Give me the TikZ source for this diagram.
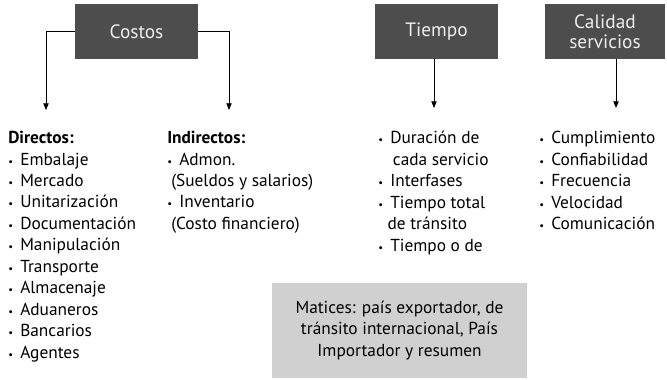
\documentclass[tikz,border=0pt]{standalone}
\usepackage{fontspec}
\setmainfont{PT Sans}
\usetikzlibrary{positioning,arrows.meta}
\definecolor{HeadGray}{HTML}{4D4D4D}
\definecolor{HeadText}{HTML}{EDEDED}
\definecolor{NoteGray}{HTML}{D0D0D0}
\newcommand{\bul}{\makebox[9pt][l]{\fontsize{8}{8}\selectfont\textbullet}}
\tikzset{
  headbox/.style={fill=HeadGray,text=HeadText,minimum height=41.25pt,
    font=\fontsize{14.5}{15}\selectfont,align=center,inner sep=0pt},
  listnode/.style={anchor=north west,inner sep=0pt,align=left,
    font=\fontsize{13}{16.1}\selectfont},
  notebox/.style={fill=NoteGray,minimum width=191.25pt,minimum height=71.25pt,
    font=\fontsize{13}{16.1}\selectfont,align=center,inner sep=0pt},
  arrowline/.style={draw=black,line width=0.6pt,-{Triangle[length=5pt,width=4pt]}},
}

\begin{document}
\begin{tikzpicture}[x=0.75pt,y=-0.75pt]
  \useasboundingbox (0,0) rectangle (667,379);
  % cabeceras
  \node[headbox,minimum width=92.25pt] (costos) at (136.5,31.5) {Costos};
  \node[headbox,minimum width=92.25pt] (tiempo) at (436.5,31.5) {Tiempo};
  \node[headbox,minimum width=90pt] (calidad) at (605,31.5) {Calidad\\ servicios};
  % puntas de flecha
  \coordinate (dirtip) at (46,110);
  \coordinate (indtip) at (229,110);
  \coordinate (tiemtip) at (434,108);
  \coordinate (caltip) at (616,108);
  % listas
  \node[listnode] (directos) at (8,131) {\textbf{Directos:}\\
    \bul Embalaje\\ \bul Mercado\\ \bul Unitarización\\ \bul Documentación\\
    \bul Manipulación\\ \bul Transporte\\ \bul Almacenaje\\ \bul Aduaneros\\
    \bul Bancarios\\ \bul Agentes};
  \node[listnode] (indirectos) at (167,131) {\textbf{Indirectos:}\\
    \bul Admon.\\ \hspace{3pt}(Sueldos y salarios)\\ \bul Inventario\\
    \hspace{3pt}(Costo financiero)};
  \node[listnode] (tiemlst) at (378,131) {\bul Duración de\\
    \hspace{11pt}cada servicio\\ \bul Interfases\\ \bul Tiempo total\\
    \hspace{7pt}de tránsito\\ \bul Tiempo o de};
  \node[listnode] (callst) at (539,131) {\bul Cumplimiento\\ \bul Confiabilidad\\
    \bul Frecuencia\\ \bul Velocidad\\ \bul Comunicación};
  \node[notebox] (matices) at (399.5,330.5) {Matices: país exportador, de\\
    tránsito internacional, País\\ Importador y resumen};
  % conectores
  \draw[arrowline] (costos.west) -| (dirtip);
  \draw[arrowline] (costos.east) -| (indtip);
  \draw[arrowline] (tiempo.south -| tiemtip) -- (tiemtip);
  \draw[arrowline] (calidad.south -| caltip) -- (caltip);
\end{tikzpicture}
\end{document}
